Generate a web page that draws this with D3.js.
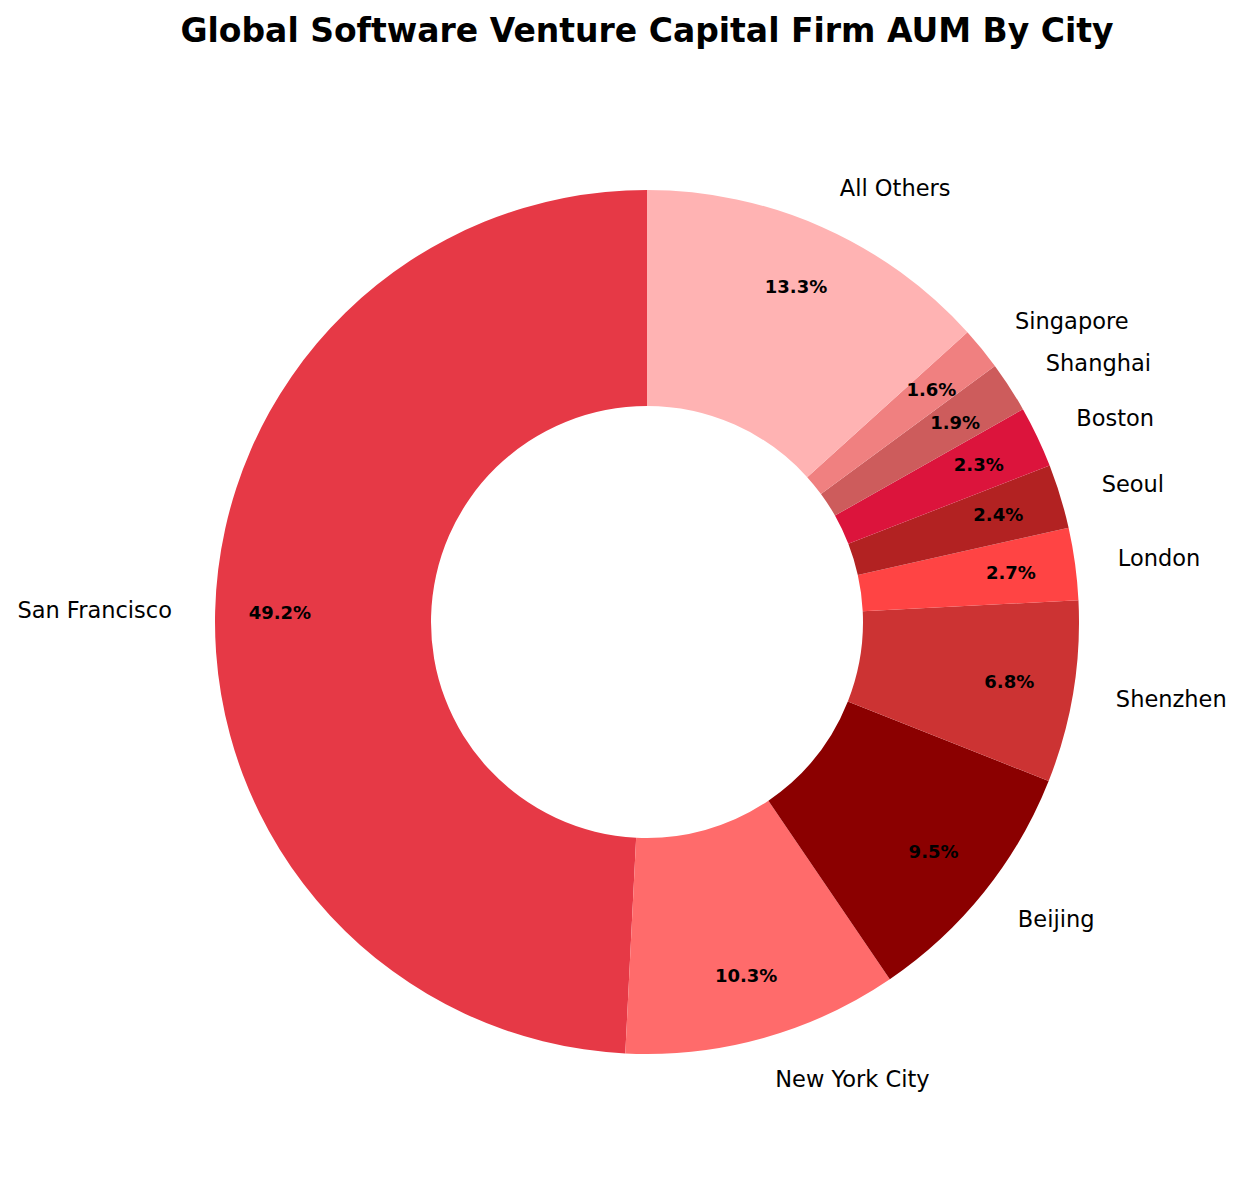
<!DOCTYPE html>
<html><head><meta charset="utf-8">
<script src="https://cdn.jsdelivr.net/npm/d3@7"></script>
<style>body{margin:0;background:#fff}</style></head>
<body><svg id="c" width="1244" height="1178"></svg>
<script>
const cities = ["San Francisco","New York City","Beijing","Shenzhen","London","Seoul","Boston","Shanghai","Singapore","All Others"];
const shares = [49.2,10.3,9.5,6.8,2.7,2.4,2.3,1.9,1.6,13.3];
const colors = ["#E63946","#FF6B6B","#8B0000","#CC3333","#FF4444","#B22222","#DC143C","#CD5C5C","#F08080","#FFB3B3"];
const svg = d3.select("#c");
const cx=647, cy=622, R=432;
svg.append("text").attr("x",647).attr("y",42).attr("text-anchor","middle")
  .attr("font-family","DejaVu Sans").attr("font-weight","bold").attr("font-size",33).text("Global Software Venture Capital Firm AUM By City");
const data = cities.map((c,i)=>({c,v:shares[i],col:colors[i]}));
const pie = d3.pie().value(d=>d.v).sort(null).startAngle(0).endAngle(-2*Math.PI);
const arcs = pie(data);
const g = svg.append("g").attr("transform",`translate(${cx},${cy})`);
const arc = d3.arc().innerRadius(R*0.5).outerRadius(R);
g.selectAll("path").data(arcs).join("path").attr("d",arc).attr("fill",d=>d.data.col);
const pos = (d,r)=>{const a=(d.startAngle+d.endAngle)/2; return [r*Math.sin(a), -r*Math.cos(a)];};
g.selectAll("text.l").data(arcs).join("text").attr("class","l")
  .attr("x",d=>pos(d,R*1.1)[0]).attr("y",d=>pos(d,R*1.1)[1]).attr("dy","0.35em")
  .attr("text-anchor",d=>pos(d,1)[0]>0?"start":"end")
  .attr("font-family","DejaVu Sans").attr("font-size",22.5).text(d=>d.data.c);
g.selectAll("text.p").data(arcs).join("text").attr("class","p")
  .attr("x",d=>pos(d,R*0.85)[0]).attr("y",d=>pos(d,R*0.85)[1]).attr("dy","0.35em")
  .attr("text-anchor","middle").attr("font-family","DejaVu Sans").attr("font-weight","bold")
  .attr("font-size",18).text(d=>d.data.v.toFixed(1)+"%");
</script></body></html>
